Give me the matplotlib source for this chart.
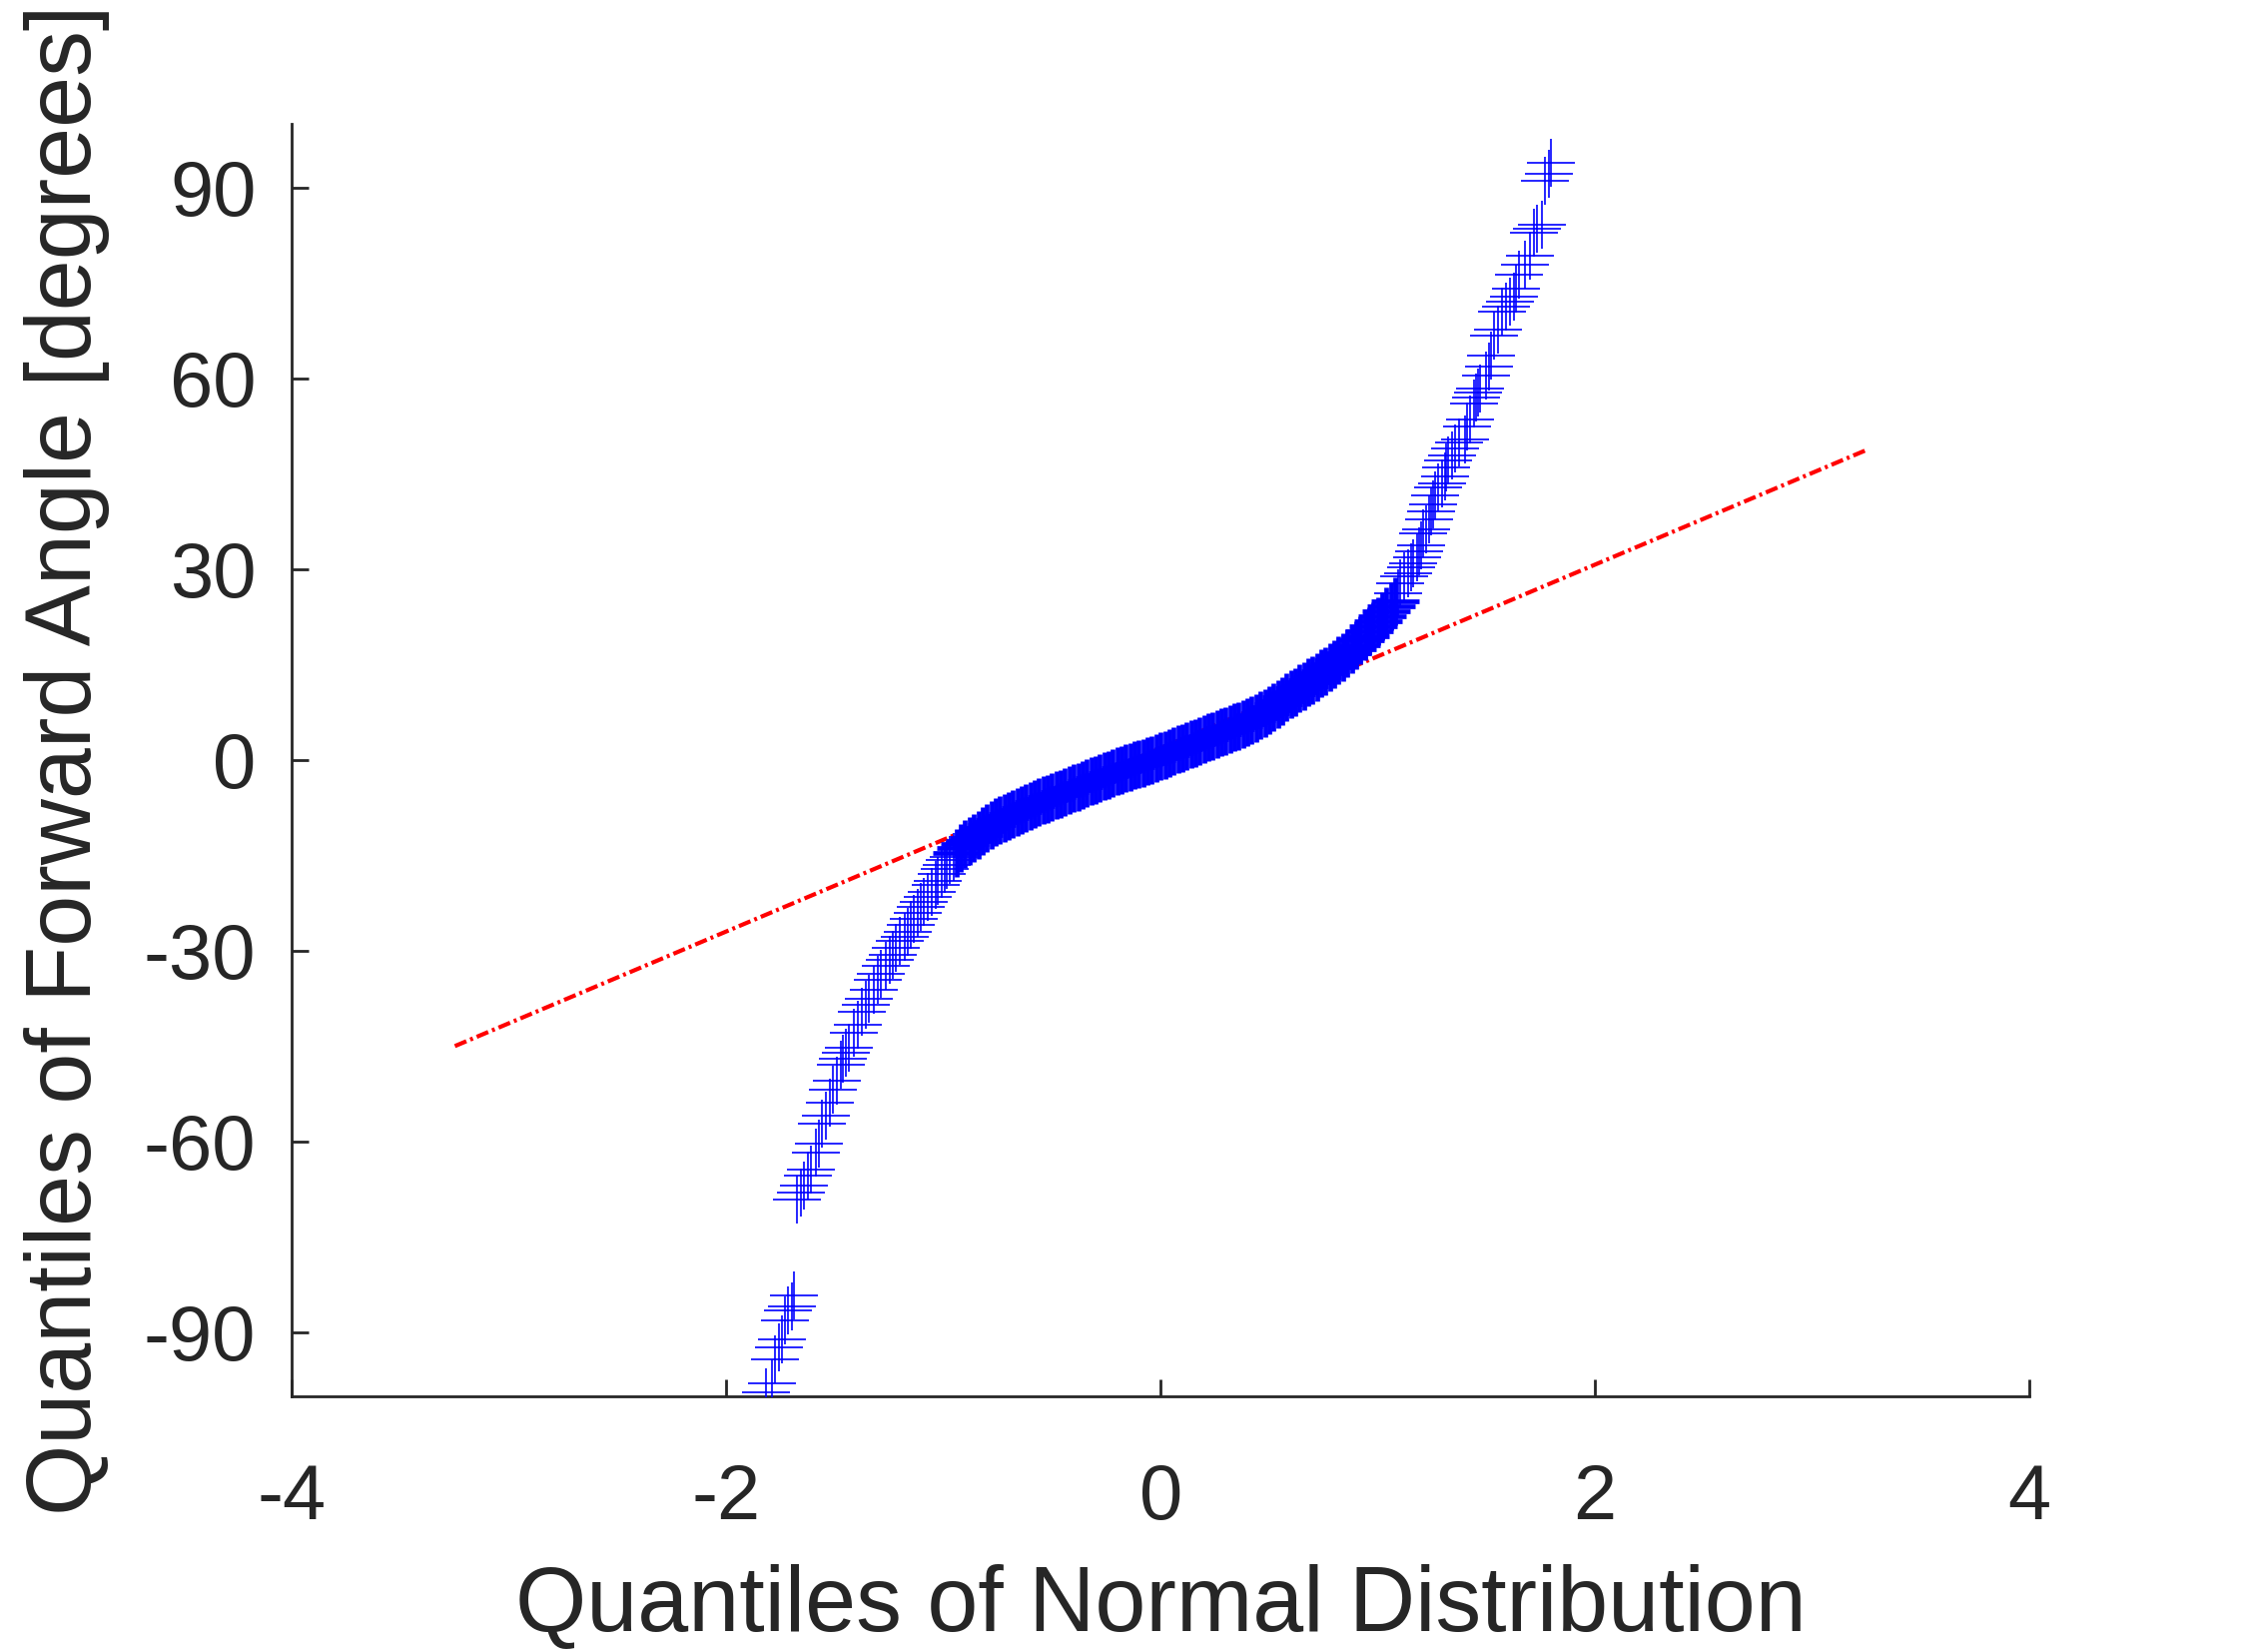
import matplotlib
matplotlib.use('Agg')
import matplotlib.pyplot as plt

plt.rcParams['font.family'] = ['Liberation Sans', 'DejaVu Sans']
plt.rcParams['axes.unicode_minus'] = False

# lower tail of the sample (normal quantile, angle in degrees)
low_x = [-1.818, -1.789, -1.776, -1.759, -1.742, -1.730, -1.717, -1.700, -1.687,
         -1.677, -1.658, -1.641, -1.626, -1.611, -1.588, -1.575, -1.561, -1.542,
         -1.523, -1.510, -1.493, -1.474, -1.461, -1.450, -1.437, -1.414, -1.393,
         -1.375, -1.356, -1.344, -1.322, -1.300, -1.290, -1.265, -1.245, -1.232,
         -1.218, -1.200, -1.180, -1.166, -1.150, -1.135, -1.118, -1.103, -1.092,
         -1.072, -1.056, -1.036, -1.025, -1.010, -0.994, -0.984, -0.970, -0.955]
low_y = [-99.4, -98.0, -94.2, -92.3, -91.1, -88.1, -86.5, -86.0, -84.2,
         -69.1, -68.0, -67.0, -65.4, -64.4, -61.7, -60.4, -57.2, -55.9,
         -53.9, -51.8, -50.5, -47.9, -47.0, -46.1, -45.2, -42.9, -41.6,
         -39.6, -38.5, -37.5, -36.2, -34.6, -33.6, -32.4, -31.5, -30.6,
         -29.5, -28.4, -27.9, -27.0, -25.9, -25.0, -24.1, -23.1, -22.3,
         -21.5, -20.8, -19.7, -19.0, -17.9, -17.2, -16.5, -15.8, -15.2]

# dense central part
mid_x = [-0.94, -0.92, -0.90, -0.88, -0.86, -0.84, -0.82, -0.80, -0.78, -0.76,
         -0.74, -0.72, -0.70, -0.68, -0.66, -0.64, -0.62, -0.60, -0.58, -0.56,
         -0.54, -0.52, -0.50, -0.48, -0.46, -0.44, -0.42, -0.40, -0.38, -0.36,
         -0.34, -0.32, -0.30, -0.28, -0.26, -0.24, -0.22, -0.20, -0.18, -0.16,
         -0.14, -0.12, -0.10, -0.08, -0.06, -0.04, -0.02, 0.00, 0.02, 0.04,
         0.06, 0.08, 0.10, 0.12, 0.14, 0.16, 0.18, 0.20, 0.22, 0.24,
         0.26, 0.28, 0.30, 0.32, 0.34, 0.36, 0.38, 0.40, 0.42, 0.44,
         0.46, 0.48, 0.50, 0.52, 0.54, 0.56, 0.58, 0.60, 0.62, 0.64,
         0.66, 0.68, 0.70, 0.72, 0.74, 0.76, 0.78, 0.80, 0.82, 0.84,
         0.86, 0.88, 0.90, 0.92, 0.94, 0.96, 0.98, 1.00, 1.02, 1.04,
         1.06, 1.08]
mid_y = [-14.6, -13.9, -13.3, -12.8, -12.3, -11.8, -11.2, -10.7, -10.2, -9.8,
         -9.4, -9.1, -8.8, -8.5, -8.2, -7.85, -7.5, -7.2, -6.9, -6.6,
         -6.35, -6.1, -5.8, -5.55, -5.3, -5.0, -4.75, -4.5, -4.2, -3.95,
         -3.7, -3.4, -3.15, -2.9, -2.6, -2.35, -2.1, -1.8, -1.55, -1.3,
         -1.1, -0.9, -0.7, -0.5, -0.25, 0.0, 0.3, 0.55, 0.8, 1.1,
         1.35, 1.65, 1.9, 2.15, 2.45, 2.7, 2.95, 3.25, 3.5, 3.75,
         4.05, 4.3, 4.55, 4.85, 5.1, 5.35, 5.65, 5.9, 6.25, 6.6,
         7.0, 7.4, 7.85, 8.3, 8.75, 9.25, 9.8, 10.25, 10.7, 11.2,
         11.65, 12.15, 12.6, 13.05, 13.55, 14.0, 14.55, 15.05, 15.6, 16.2,
         16.8, 17.4, 18.0, 18.75, 19.45, 20.2, 21.0, 21.8, 22.6, 23.4,
         24.2, 25.0]

# upper tail
high_x = [1.095, 1.104, 1.122, 1.140, 1.155, 1.165, 1.180, 1.190, 1.200, 1.210,
          1.222, 1.235, 1.246, 1.256, 1.266, 1.280, 1.295, 1.308, 1.316, 1.325,
          1.340, 1.356, 1.375, 1.400, 1.410, 1.425, 1.445, 1.453, 1.463, 1.473,
          1.500, 1.513, 1.523, 1.535, 1.555, 1.573, 1.591, 1.611, 1.626, 1.638,
          1.650, 1.678, 1.702, 1.718, 1.734, 1.758, 1.772, 1.788, 1.798]
high_y = [26.2, 27.7, 28.8, 29.4, 30.2, 30.9, 31.8, 32.8, 33.7, 35.6,
          36.2, 37.8, 39.1, 40.1, 41.5, 42.8, 43.5, 44.5, 45.9, 47.1,
          47.9, 48.9, 49.9, 50.3, 52.4, 53.5, 56.0, 56.9, 57.8, 58.3,
          60.4, 61.9, 63.6, 66.7, 67.7, 70.4, 71.3, 72.1, 72.8, 74.0,
          76.2, 77.8, 79.2, 82.8, 83.5, 84.2, 91.1, 92.1, 93.8]

# reference line through the quartiles
ref_x = [-3.25, 3.25]
ref_y = [-45.0, 48.7]

x_ticks = [-4, -2, 0, 2, 4]
y_ticks = [-90, -60, -30, 0, 30, 60, 90]

ink = '#262626'

fig = plt.figure(figsize=(11.22, 8.27), dpi=200)
ax = fig.add_axes([0.1303, 0.155, 0.7752, 0.7701])

ref, = ax.plot(ref_x, ref_y, color='red', lw=1.5, linestyle=(0, (3.0, 1.0, 0.7, 1.0)),
               zorder=2)
ref.set_dash_capstyle('butt')

ax.plot(low_x, low_y, '+', color='blue', ms=17.5, mew=0.6, zorder=3)
ax.plot(mid_x, mid_y, '+', color='blue', ms=17.5, mew=1.7, zorder=3)
ax.plot(high_x, high_y, '+', color='blue', ms=17.5, mew=0.6, zorder=3)

ax.set_xlim(-4, 4)
ax.set_ylim(-100, 100)
ax.set_xticks(x_ticks)
ax.set_yticks(y_ticks)

for side in ['top', 'right']:
    ax.spines[side].set_visible(False)
for side in ['left', 'bottom']:
    ax.spines[side].set_color(ink)
    ax.spines[side].set_linewidth(1.0)

ax.tick_params(direction='in', length=6, width=1.0, color=ink, labelcolor=ink,
               labelsize=28)
ax.tick_params(axis='x', pad=24)
ax.tick_params(axis='y', pad=13)

ax.set_xlabel('Quantiles of Normal Distribution', fontsize=33, color=ink)
ax.set_ylabel('Quantiles of Forward Angle [degrees]', fontsize=33, color=ink)
ax.xaxis.set_label_coords(0.5, -0.132)
ax.yaxis.set_label_coords(-0.105, 0.5)

fig.savefig('out.png', dpi=200, facecolor='white')
